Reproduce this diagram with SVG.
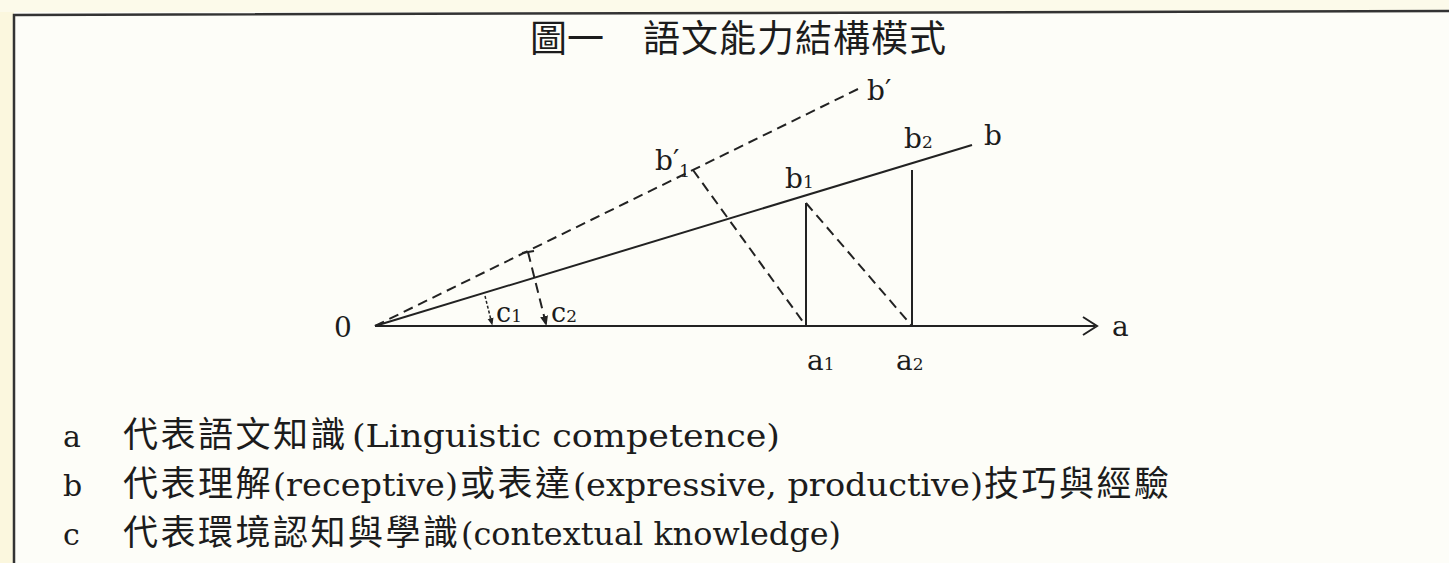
<svg xmlns="http://www.w3.org/2000/svg" width="1449" height="563" viewBox="0 0 1449 563">
<defs>
<style>
.ln{stroke:#222;stroke-width:2;fill:none}
.dash{stroke:#222;stroke-width:2;fill:none;stroke-dasharray:10 6}
.lat{font-family:"DejaVu Serif","Liberation Serif",serif;fill:#1c1c1c}
.cjk{font-family:"Noto Sans CJK TC","Noto Sans CJK SC",sans-serif;fill:#1c1c1c}
.leg{font-size:35px;letter-spacing:2.5px}
.lat31{font-size:31px}
.sub{font-size:17px}
</style>
<marker id="tip" viewBox="0 0 10 10" refX="8" refY="5" markerWidth="5" markerHeight="5" orient="auto">
<path d="M0,1 L10,5 L0,9 z" fill="#222"/>
</marker>
</defs>
<rect x="0" y="0" width="1449" height="563" fill="#fdfdf8"/>
<rect x="0" y="0" width="14" height="563" fill="#fbf7de"/>
<rect x="0" y="0" width="1449" height="12" fill="#fcfaea"/>
<g id="frame">
<path d="M14,563 L14,15 L1449,11" fill="none" stroke="#333" stroke-width="2.5"/>
</g>
<g id="title">
<text class="cjk" x="530" y="52" font-size="37">圖一</text>
<text class="cjk" x="643" y="52" font-size="37" letter-spacing="1">語文能力結構模式</text>
</g>
<g id="connectors">
<line class="ln" x1="375" y1="326" x2="1095" y2="326"/>
<path class="ln" d="M1083,317 L1097,326 L1083,335"/>
<line class="ln" x1="375" y1="326" x2="972" y2="145"/>
<line class="dash" x1="375" y1="326" x2="860" y2="88"/>
<line class="dash" x1="693" y1="170" x2="806" y2="326"/>
<line class="ln" x1="806" y1="326" x2="806" y2="203"/>
<line class="dash" x1="806" y1="203" x2="912" y2="326"/>
<line class="ln" x1="912" y1="326" x2="912" y2="170"/>
<line stroke="#222" stroke-width="1.5" stroke-dasharray="3 2" x1="485" y1="296" x2="492" y2="324" marker-end="url(#tip)"/>
<line class="dash" x1="528" y1="252" x2="546" y2="324" stroke-dasharray="8 5" marker-end="url(#tip)"/>
<line class="ln" x1="522" y1="253" x2="534" y2="251"/>
</g>
<g id="n0"><text class="lat" x="334" y="337" font-size="28">0</text></g>
<g id="na"><text class="lat" x="1112" y="336" font-size="28">a</text></g>
<g id="na1"><text class="lat" x="807" y="370" font-size="28">a<tspan class="sub">1</tspan></text></g>
<g id="na2"><text class="lat" x="896" y="370" font-size="28">a<tspan class="sub">2</tspan></text></g>
<g id="nb"><text class="lat" x="984" y="145" font-size="28">b</text></g>
<g id="nb1"><text class="lat" x="785" y="188" font-size="28">b<tspan class="sub">1</tspan></text></g>
<g id="nb2"><text class="lat" x="904" y="148" font-size="28">b<tspan class="sub">2</tspan></text></g>
<g id="nbp"><text class="lat" x="867" y="100" font-size="28">b′</text></g>
<g id="nbp1"><text class="lat" x="655" y="170" font-size="28">b′<tspan class="sub" dy="7">1</tspan></text></g>
<g id="nc1"><text class="lat" x="496" y="322" font-size="27">c<tspan class="sub">1</tspan></text></g>
<g id="nc2"><text class="lat" x="551" y="322" font-size="27">c<tspan class="sub">2</tspan></text></g>
<g id="legend">
<text class="lat" x="63" y="447" font-size="30">a</text>
<text class="cjk leg" x="123" y="447">代表語文知識</text>
<text class="lat lat31" x="352" y="447" textLength="428" lengthAdjust="spacingAndGlyphs">(Linguistic competence)</text>
<text class="lat" x="63" y="496" font-size="30">b</text>
<text class="cjk leg" x="123" y="496">代表理解</text>
<text class="lat lat31" x="273" y="496" textLength="185" lengthAdjust="spacingAndGlyphs">(receptive)</text>
<text class="cjk leg" x="460" y="496">或表達</text>
<text class="lat lat31" x="573" y="496" textLength="410" lengthAdjust="spacingAndGlyphs">(expressive, productive)</text>
<text class="cjk leg" x="984" y="496">技巧與經驗</text>
<text class="lat" x="63" y="545" font-size="30">c</text>
<text class="cjk leg" x="123" y="545">代表環境認知與學識</text>
<text class="lat lat31" x="461" y="545" textLength="380" lengthAdjust="spacingAndGlyphs">(contextual knowledge)</text>
</g>
</svg>
